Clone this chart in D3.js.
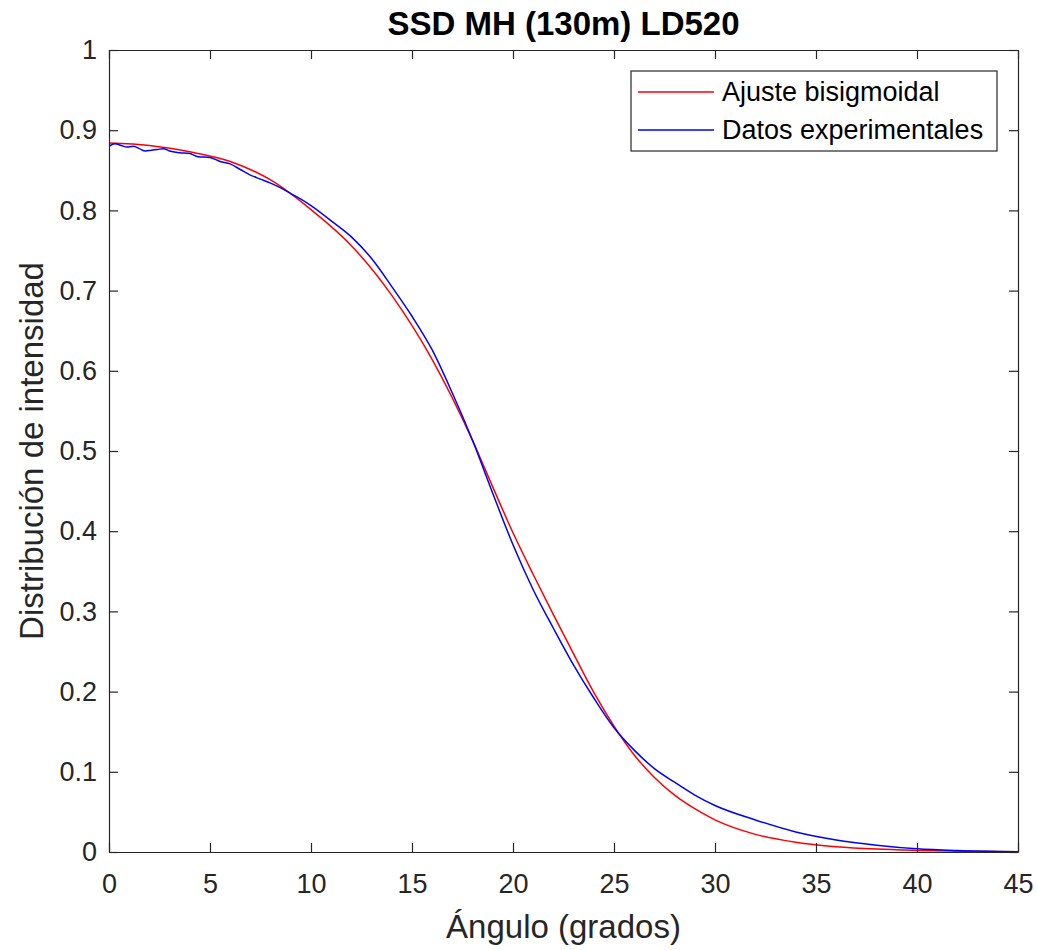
<!DOCTYPE html>
<html>
<head>
<meta charset="utf-8">
<script src="https://cdn.jsdelivr.net/npm/d3@7"></script>
<style>
  body { margin: 0; background: #fff; }
  text { font-family: "Liberation Sans", Arial, Helvetica, sans-serif; fill: #262626; }
</style>
</head>
<body>
<script>

// Data
var fitX = [0, 2, 4, 6, 8, 10, 12, 14, 16, 18, 19, 20, 21, 22, 23, 24, 25, 26, 27, 28, 29, 30, 32, 34, 36, 38, 40, 42, 45]
var fitY = [0.884, 0.881, 0.873, 0.861, 0.838, 0.801, 0.756, 0.694, 0.614, 0.513, 0.455, 0.398, 0.346, 0.296, 0.247, 0.199, 0.157, 0.121, 0.093, 0.071, 0.054, 0.040, 0.022, 0.0122, 0.0066, 0.0036, 0.002, 0.001, 0.0003]

var expX = [0, 0.3, 0.6, 0.9, 1.2, 1.5, 1.8, 2.1, 2.4, 2.7, 3.0, 3.5, 4.0, 4.4, 5.0, 5.5, 6.0, 6.5, 7.0, 7.5, 8.0, 8.5, 9.0, 9.5, 10, 11, 12, 13, 14, 15, 16, 17, 18, 19, 20, 21, 22, 23, 24, 25, 26, 27, 28, 29, 30, 32, 34, 36, 38, 40, 42, 45]
var expY = [0.880, 0.883, 0.881, 0.879, 0.880, 0.877, 0.874, 0.875, 0.876, 0.877, 0.874, 0.872, 0.871, 0.867, 0.866, 0.861, 0.858, 0.851, 0.844, 0.839, 0.834, 0.828, 0.821, 0.814, 0.806, 0.787, 0.767, 0.740, 0.705, 0.668, 0.626, 0.572, 0.513, 0.447, 0.383, 0.327, 0.279, 0.233, 0.192, 0.155, 0.127, 0.104, 0.087, 0.071, 0.058, 0.040, 0.025, 0.015, 0.0085, 0.0040, 0.0018, 0.0004]

var xTicks = [0, 5, 10, 15, 20, 25, 30, 35, 40, 45]
var yTicks = [0, 0.1, 0.2, 0.3, 0.4, 0.5, 0.6, 0.7, 0.8, 0.9, 1]

var seriesNames = ['Ajuste bisigmoidal', 'Datos experimentales']
var seriesColors = ['#ff0000', '#0000ff']

var titleText = 'SSD MH (130m) LD520'
var xLabel = 'Ángulo (grados)'
var yLabel = 'Distribución de intensidad'

// Set the dimensions of the canvas / graph
var margin = {top: 50, right: 19, bottom: 98, left: 109},
  width = 1037 - margin.left - margin.right,
  height = 950 - margin.top - margin.bottom

var xScale = d3.scaleLinear().domain([0, 45]).range([0, width])
var yScale = d3.scaleLinear().domain([0, 1]).range([height, 0])

var svg = d3.select("body").append("svg")
  .attr("width", 1037)
  .attr("height", 950)

var g = svg.append("g")
  .attr("transform", "translate(" + margin.left + "," + margin.top + ")")

g.append("clipPath").attr("id", "plotclip")
  .append("rect").attr("width", width).attr("height", height)

// lines
var lineGenerator = d3.line()
  .x(function(d) { return xScale(d[0]) })
  .y(function(d) { return yScale(d[1]) })
  .curve(d3.curveMonotoneX)

var series = [d3.zip(fitX, fitY), d3.zip(expX, expY)]

g.append("g").attr("clip-path", "url(#plotclip)")
  .selectAll("path")
  .data(series)
  .enter().append("path")
  .attr("fill", "none")
  .attr("stroke", function(d, i) { return seriesColors[i] })
  .attr("stroke-width", 1.5)
  .attr("d", lineGenerator)

// axes, ticks inside on all four sides
var tickLen = 9
var tickFmt = function(d) { return d3.format("~g")(d) }

function styleAxis(sel) {
  sel.selectAll(".domain").attr("stroke", "#262626").attr("stroke-width", 1.2)
  sel.selectAll(".tick line").attr("stroke", "#262626").attr("stroke-width", 1.2)
  sel.selectAll(".tick text").attr("font-size", 27).attr("fill", "#262626")
    .attr("font-family", '"Liberation Sans", Arial, sans-serif')
}

g.append("g")
  .attr("transform", "translate(0," + height + ")")
  .call(d3.axisBottom(xScale).tickValues(xTicks).tickFormat(tickFmt).tickSize(-tickLen).tickSizeOuter(0).tickPadding(22))
  .call(styleAxis)

g.append("g")
  .call(d3.axisTop(xScale).tickValues(xTicks).tickFormat("").tickSize(-tickLen).tickSizeOuter(0))
  .call(styleAxis)

g.append("g")
  .call(d3.axisLeft(yScale).tickValues(yTicks).tickFormat(tickFmt).tickSize(-tickLen).tickSizeOuter(0).tickPadding(12))
  .call(styleAxis)

g.append("g")
  .attr("transform", "translate(" + width + ",0)")
  .call(d3.axisRight(yScale).tickValues(yTicks).tickFormat("").tickSize(-tickLen).tickSizeOuter(0))
  .call(styleAxis)

// title and labels
svg.append("text")
  .attr("x", margin.left + width / 2)
  .attr("y", 35)
  .attr("text-anchor", "middle")
  .attr("font-size", 33)
  .attr("font-weight", "bold")
  .style("fill", "#000")
  .text(titleText)

svg.append("text")
  .attr("x", margin.left + width / 2)
  .attr("y", 938)
  .attr("text-anchor", "middle")
  .attr("font-size", 33)
  .text(xLabel)

svg.append("text")
  .attr("transform", "translate(43," + (margin.top + height / 2) + ") rotate(-90)")
  .attr("text-anchor", "middle")
  .attr("font-size", 33)
  .text(yLabel)

// legend
var legend = svg.append("g").attr("transform", "translate(631,71)")

legend.append("rect")
  .attr("width", 366).attr("height", 80)
  .attr("fill", "#fff")
  .attr("stroke", "#262626").attr("stroke-width", 1.2)

var rows = legend.selectAll(".row")
  .data(seriesNames)
  .enter().append("g")
  .attr("transform", function(d, i) { return "translate(0," + (21 + i * 38) + ")" })

rows.append("line")
  .attr("x1", 7).attr("x2", 83)
  .attr("stroke", function(d, i) { return seriesColors[i] })
  .attr("stroke-width", 1.5)

rows.append("text")
  .attr("x", 91)
  .attr("dy", "0.35em")
  .attr("font-size", 27)
  .style("fill", "#000")
  .text(function(d) { return d })

</script>
</body>
</html>
